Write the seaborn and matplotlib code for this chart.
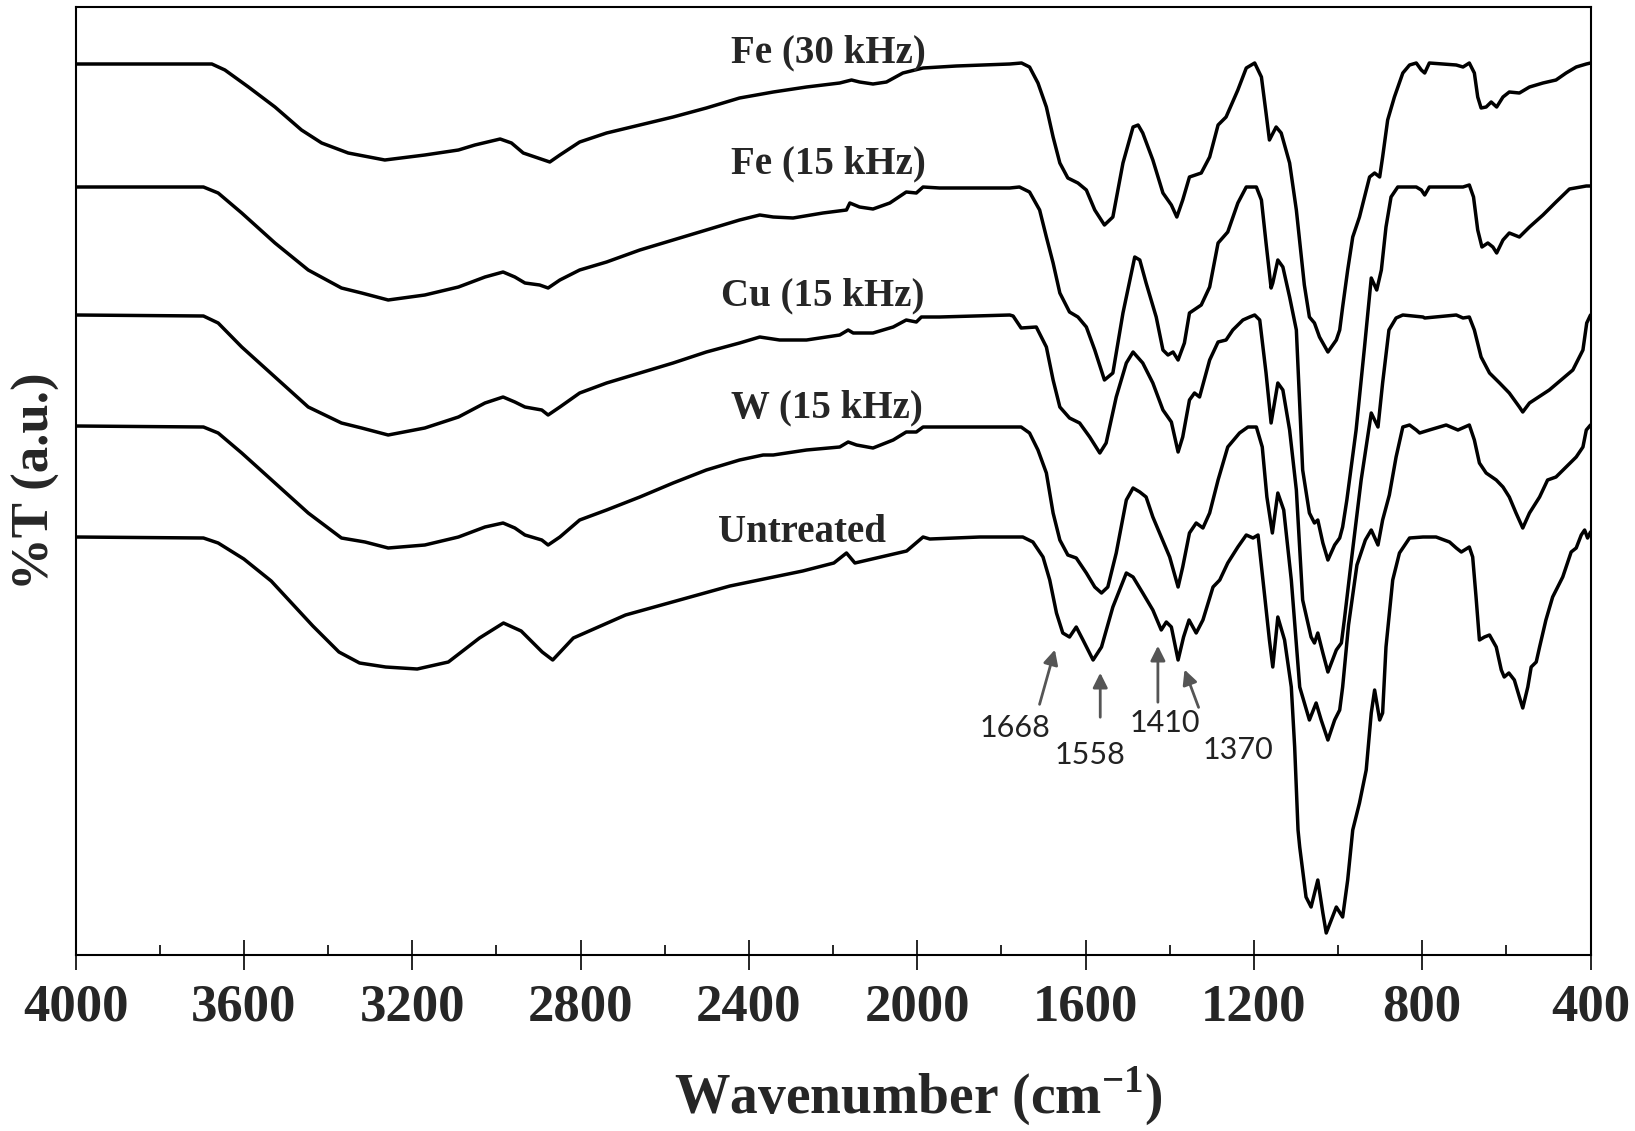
import matplotlib

matplotlib.use("Agg")
import matplotlib.pyplot as plt
from matplotlib.ticker import MultipleLocator
import seaborn as sns

# Espectros FTIR (numero de onda en cm-1, %T en unidades arbitrarias)
fe30_wn = [4000, 3676, 3645, 3589, 3526, 3463, 3415, 3352, 3265, 3170, 3090, 3051, 2991, 2964, 2936, 2908,
           2873, 2849, 2802, 2738, 2659, 2580, 2501, 2422, 2342, 2263, 2184, 2156, 2137, 2105, 2073, 2034,
           1986, 1907, 1780, 1752, 1733, 1713, 1693, 1677, 1661, 1642, 1618, 1598, 1578, 1555, 1535, 1511,
           1487, 1475, 1464, 1440, 1416, 1396, 1383, 1369, 1353, 1325, 1305, 1285, 1266, 1238, 1218, 1198,
           1182, 1171, 1163, 1147, 1135, 1115, 1099, 1080, 1068, 1056, 1044, 1024, 1004, 996, 989, 977,
           965, 949, 925, 913, 901, 894, 882, 866, 846, 830, 814, 802, 794, 783, 719, 703, 688, 676, 668,
           660, 648, 636, 623, 608, 593, 569, 545, 513, 482, 458, 434, 410, 400]
fe30_t = [89.1, 89.1, 88.5, 86.8, 84.8, 82.5, 81.2, 80.2, 79.5, 80.0, 80.5, 81.0, 81.6, 81.2, 80.2, 79.8,
          79.3, 80.0, 81.3, 82.2, 83.0, 83.8, 84.7, 85.7, 86.3, 86.8, 87.2, 87.5, 87.3, 87.1, 87.3, 88.2,
          88.7, 88.9, 89.1, 89.2, 88.8, 87.2, 84.8, 81.8, 79.2, 77.7, 77.2, 76.5, 74.5, 73.0, 73.8, 79.2,
          82.8, 83.0, 82.2, 79.5, 76.2, 75.0, 73.8, 75.5, 77.8, 78.2, 79.8, 83.0, 83.8, 86.5, 88.7, 89.2,
          87.8, 84.2, 81.5, 82.8, 82.2, 79.2, 74.5, 67.0, 63.8, 63.2, 61.8, 60.3, 61.5, 62.5, 64.8, 68.5,
          71.8, 73.8, 77.8, 78.2, 77.8, 79.8, 83.5, 85.8, 88.2, 89.0, 89.2, 88.5, 88.2, 89.2, 89.0, 88.8, 89.2, 88.2, 85.8,
          84.7, 84.8, 85.3, 84.8, 85.8, 86.3, 86.2, 86.8, 87.2, 87.5, 88.2, 88.8, 89.1, 89.2]

fe15_wn = [4000, 3696, 3661, 3605, 3526, 3447, 3368, 3320, 3257, 3170, 3090, 3027, 2984, 2956, 2932, 2897,
           2877, 2849, 2802, 2738, 2659, 2580, 2501, 2422, 2374, 2342, 2295, 2224, 2168, 2160, 2137, 2105,
           2065, 2026, 2002, 1986, 1947, 1780, 1757, 1733, 1709, 1693, 1677, 1661, 1638, 1618, 1598, 1578,
           1555, 1535, 1511, 1483, 1471, 1456, 1432, 1416, 1404, 1392, 1380, 1365, 1353, 1325, 1305, 1285,
           1262, 1238, 1218, 1194, 1182, 1171, 1159, 1155, 1143, 1131, 1115, 1099, 1084, 1068, 1056, 1048,
           1036, 1024, 1008, 996, 989, 979, 957, 937, 921, 908, 897, 886, 874, 858, 814, 802, 794, 783,
           703, 688, 678, 668, 658, 644, 632, 623, 608, 593, 569, 545, 513, 482, 450, 410, 400]
fe15_t = [76.8, 76.8, 76.2, 74.2, 71.2, 68.5, 66.7, 66.2, 65.5, 66.0, 66.8, 67.8, 68.3, 67.8, 67.2, 67.0,
          66.7, 67.5, 68.5, 69.3, 70.5, 71.5, 72.5, 73.5, 74.0, 73.8, 73.7, 74.2, 74.5, 75.2, 74.8, 74.6,
          75.2, 76.3, 76.2, 76.8, 76.7, 76.7, 76.8, 76.3, 74.5, 71.8, 69.2, 66.2, 64.3, 63.8, 62.8, 60.5,
          57.5, 58.2, 64.2, 69.8, 69.5, 67.2, 63.8, 60.5, 60.0, 60.3, 59.5, 61.2, 64.2, 65.0, 66.8, 71.2,
          72.3, 75.2, 76.8, 76.8, 75.5, 71.2, 66.7, 67.2, 69.5, 68.8, 65.8, 62.5, 48.5, 44.2, 43.2, 43.5,
          41.2, 39.5, 41.0, 41.7, 42.8, 45.5, 52.5, 60.8, 67.7, 66.5, 68.5, 72.8, 75.8, 76.8, 76.8, 76.5, 76.0, 76.8,
          76.8, 77.0, 75.8, 72.5, 70.8, 71.2, 70.8, 70.2, 71.5, 72.2, 71.8, 72.8, 74.0, 75.3, 76.6, 76.9, 76.9]

cu15_wn = [4000, 3696, 3661, 3605, 3526, 3447, 3368, 3320, 3257, 3170, 3090, 3027, 2984, 2956, 2932, 2892,
           2877, 2849, 2802, 2738, 2659, 2580, 2501, 2422, 2374, 2327, 2263, 2184, 2164, 2152, 2105, 2057,
           2026, 2002, 1990, 1947, 1780, 1772, 1753, 1717, 1693, 1677, 1661, 1638, 1614, 1590, 1566, 1551,
           1527, 1503, 1487, 1464, 1440, 1416, 1396, 1380, 1369, 1353, 1341, 1329, 1305, 1285, 1266, 1250,
           1226, 1210, 1198, 1186, 1171, 1159, 1151, 1143, 1131, 1115, 1099, 1084, 1064, 1056, 1048, 1036,
           1024, 1004, 992, 985, 969, 945, 921, 905, 894, 879, 862, 846, 798, 794, 719, 703, 688, 676,
           660, 640, 616, 593, 569, 561, 545, 498, 442, 418, 409, 400]
cu15_t = [64.0, 63.9, 63.2, 60.8, 57.8, 54.8, 53.2, 52.7, 52.0, 52.7, 53.8, 55.2, 55.8, 55.3, 54.8, 54.5,
          54.0, 54.8, 56.2, 57.2, 58.2, 59.2, 60.3, 61.2, 61.8, 61.5, 61.5, 62.0, 62.5, 62.2, 62.2, 62.8,
          63.5, 63.3, 63.8, 63.8, 64.0, 63.9, 62.7, 62.8, 60.8, 57.5, 54.8, 53.7, 53.2, 51.8, 50.2, 51.2,
          55.8, 59.2, 60.3, 59.2, 57.2, 54.5, 53.3, 50.3, 51.8, 55.5, 56.2, 55.8, 59.5, 61.3, 61.5, 62.5,
          63.5, 63.8, 64.0, 63.5, 58.2, 53.2, 55.2, 57.2, 56.5, 52.5, 46.5, 35.5, 31.8, 31.2, 32.2, 30.2,
          28.3, 30.5, 31.2, 33.5, 39.2, 47.5, 54.2, 52.8, 57.2, 62.5, 63.7, 64.0, 63.8, 63.7, 64.0, 63.7, 63.8, 62.5,
          59.8, 58.2, 57.2, 56.2, 54.8, 54.3, 55.2, 56.5, 58.5, 60.5, 63.2, 64.0]

w15_wn = [4000, 3696, 3661, 3605, 3526, 3447, 3368, 3312, 3257, 3170, 3090, 3027, 2984, 2956, 2932, 2892,
          2877, 2849, 2802, 2738, 2659, 2580, 2501, 2422, 2366, 2342, 2263, 2184, 2164, 2144, 2105, 2057,
          2026, 2002, 1986, 1780, 1753, 1733, 1713, 1693, 1677, 1661, 1642, 1622, 1598, 1578, 1562, 1547,
          1527, 1503, 1487, 1471, 1456, 1440, 1420, 1400, 1380, 1369, 1353, 1337, 1321, 1305, 1285, 1262,
          1234, 1214, 1194, 1180, 1169, 1156, 1143, 1129, 1111, 1091, 1068, 1052, 1040, 1024, 1008, 996,
          989, 975, 955, 935, 921, 905, 894, 878, 862, 846, 830, 814, 806, 783, 743, 715, 688, 676, 664,
          648, 624, 608, 593, 577, 561, 545, 521, 502, 482, 458, 434, 418, 410, 400]
w15_t = [52.9, 52.8, 52.2, 50.2, 47.2, 44.2, 41.7, 41.3, 40.7, 41.0, 41.8, 42.8, 43.2, 42.7, 42.0, 41.5,
         41.0, 41.8, 43.5, 44.5, 45.8, 47.2, 48.5, 49.5, 50.0, 50.0, 50.5, 50.8, 51.3, 51.0, 50.7, 51.5,
         52.3, 52.3, 52.8, 52.8, 52.8, 52.2, 50.5, 48.2, 44.2, 41.5, 40.0, 39.7, 38.2, 36.8, 36.2, 36.8,
         40.2, 45.5, 46.7, 46.3, 45.8, 43.8, 41.8, 39.8, 36.8, 38.8, 42.2, 43.2, 42.7, 44.2, 47.5, 50.8,
         52.2, 52.8, 52.8, 50.8, 45.8, 42.2, 46.2, 44.5, 37.5, 26.8, 23.5, 25.2, 23.5, 21.5, 23.5, 24.5,
         26.8, 33.0, 39.0, 41.5, 42.5, 41.0, 43.5, 46.0, 49.8, 52.8, 53.0, 52.5, 52.2, 52.5, 53.0, 52.5, 53.0, 51.5, 49.2,
         48.2, 47.5, 46.8, 45.8, 44.2, 42.7, 44.2, 45.8, 47.5, 47.8, 48.8, 49.8, 50.8, 52.5, 53.0]

untreated_wn = [4000, 3696, 3661, 3600, 3535, 3436, 3374, 3325, 3263, 3188, 3114, 3040, 2983, 2941, 2891, 2866,
                2817, 2693, 2445, 2272, 2198, 2168, 2148, 2025, 1986, 1970, 1851, 1749, 1725, 1701, 1685,
                1669, 1654, 1638, 1622, 1606, 1582, 1562, 1535, 1503, 1487, 1464, 1440, 1420, 1408, 1396,
                1380, 1367, 1354, 1337, 1321, 1297, 1281, 1262, 1238, 1218, 1202, 1190, 1174, 1163, 1155,
                1143, 1127, 1111, 1103, 1095, 1091, 1076, 1064, 1048, 1036, 1028, 1016, 1004, 989, 977, 965,
                949, 933, 921, 913, 901, 894, 886, 870, 854, 830, 798, 767, 735, 719, 707, 688, 680, 672,
                664, 652, 640, 624, 612, 605, 594, 581, 569, 561, 549, 541, 529, 521, 506, 490, 466, 446,
                434, 422, 414, 407, 400]
untreated_t = [41.8, 41.7, 41.2, 39.6, 37.4, 32.9, 30.3, 29.2, 28.8, 28.6, 29.3, 31.7, 33.2, 32.4, 30.3, 29.5,
               31.7, 34.0, 36.9, 38.4, 39.2, 40.2, 39.2, 40.4, 41.8, 41.6, 41.8, 41.8, 41.3, 39.8, 37.5,
               34.2, 32.2, 31.8, 32.8, 31.5, 29.5, 30.8, 34.8, 38.2, 37.8, 36.2, 34.5, 32.5, 33.3, 32.8,
               29.5, 31.8, 33.5, 32.2, 33.5, 36.8, 37.5, 39.2, 40.8, 42.0, 41.7, 42.0, 35.8, 31.5, 28.8,
               33.8, 31.5, 26.8, 20.8, 12.5, 10.8, 5.8, 4.8, 7.5, 4.2, 2.2, 3.5, 4.8, 3.8, 7.5, 12.5,
               15.2, 18.5, 24.2, 26.5, 23.5, 24.2, 30.8, 37.5, 40.2, 41.7, 41.8, 41.8, 41.3, 40.7, 40.3, 40.8, 39.8, 35.8,
               31.5, 31.8, 32.0, 30.8, 28.5, 27.8, 28.2, 27.5, 25.8, 24.7, 26.8, 28.8, 29.3, 30.8, 33.5, 35.8, 37.8, 40.3,
               40.7, 42.0, 42.5, 41.7, 42.3]

# Etiquetas de cada espectro (texto, posicion x, posicion y)
curve_names = ["Fe (30 kHz)", "Fe (15 kHz)", "Cu (15 kHz)", "W (15 kHz)", "Untreated"]
curve_label_x = [2212, 2212, 2225, 2214, 2273]
curve_label_y = [89.3, 78.2, 65.0, 53.8, 41.3]

# Bandas senaladas con flechas
peak_labels = ["1668", "1558", "1410", "1370"]
peak_text_x = [1768, 1589, 1412, 1238]
peak_text_y = [22.7, 20.0, 23.2, 20.5]
arrow_tail_x = [1711, 1565, 1428, 1329]
arrow_tail_y = [24.8, 23.5, 25.0, 24.5]
arrow_head_x = [1671, 1565, 1428, 1367]
arrow_head_y = [30.8, 28.5, 31.2, 28.8]

sns.set_style("ticks")
plt.rcParams["font.family"] = ["Liberation Serif", "DejaVu Serif"]
plt.rcParams["font.weight"] = "bold"
plt.rcParams["mathtext.fontset"] = "custom"
plt.rcParams["mathtext.rm"] = "Liberation Serif:bold"
plt.rcParams["mathtext.bf"] = "Liberation Serif:bold"

fig = plt.figure(figsize=(16.35, 11.31), dpi=100)
ax = fig.add_axes([0.04618, 0.15561, 0.92661, 0.83820])

series = [(fe30_wn, fe30_t), (fe15_wn, fe15_t), (cu15_wn, cu15_t), (w15_wn, w15_t), (untreated_wn, untreated_t)]
for wn, t in series:
    sns.lineplot(x=wn, y=t, ax=ax, color="black", linewidth=2.5, sort=False, estimator=None, legend=False)

for name, lx, ly in zip(curve_names, curve_label_x, curve_label_y):
    ax.text(lx, ly, name, ha="center", va="baseline", fontsize=28, fontweight="bold")

for lab, tx, ty, x0, y0, x1, y1 in zip(peak_labels, peak_text_x, peak_text_y,
                                        arrow_tail_x, arrow_tail_y, arrow_head_x, arrow_head_y):
    ax.annotate("", xy=(x1, y1), xytext=(x0, y0),
                arrowprops=dict(arrowstyle="-|>", color="#555555", lw=2, mutation_scale=22))
    ax.text(tx, ty, lab, ha="center", va="center", fontsize=22, family="Lato",
            fontweight="normal", color="#222222")

ax.set_xlim(4000, 400)
ax.set_ylim(0, 94.8)
ax.set_xticks(list(range(4000, 399, -400)))
ax.xaxis.set_minor_locator(MultipleLocator(200))
ax.set_yticks([])
ax.tick_params(axis="x", which="major", direction="inout", length=21, width=1.4,
               labelsize=38, pad=10)
ax.tick_params(axis="x", which="minor", direction="in", length=7, width=1.4)
for s in ax.spines.values():
    s.set_linewidth(1.5)
    s.set_color("black")

ax.set_xlabel(r"Wavenumber (cm$^{\mathbf{-1}}$)", fontsize=40, fontweight="bold")
ax.xaxis.set_label_coords(0.556, -0.116)
ax.set_ylabel("%T (a.u.)", fontsize=38, fontweight="bold")
ax.yaxis.set_label_coords(-0.010, 0.50)

plt.savefig("out.png", dpi=100)
plt.close()
